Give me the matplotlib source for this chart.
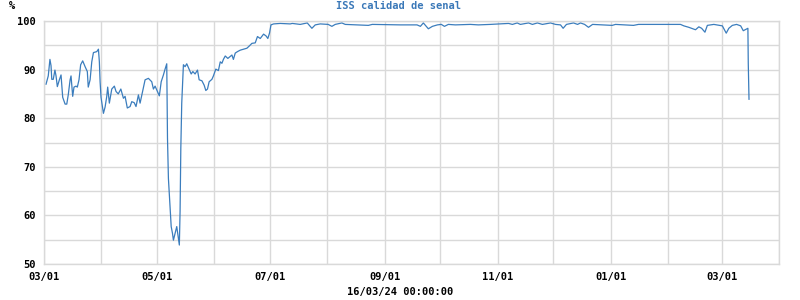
import matplotlib
matplotlib.use("Agg")
import matplotlib.pyplot as plt
import matplotlib.dates as mdates
import pandas as pd

start_date = "2023-03-01"
end_date = "2024-04-01"

# days since 2023-03-01
day_offsets = [
    1.1, 2.3, 3.2, 3.8, 4.2, 5.0, 5.9, 6.5, 7.2, 8.3, 9.2, 9.7, 10.1, 11.4, 12.3, 13.1,
    14.1, 14.6, 15.5, 16.2, 17.3, 18.0, 18.9, 19.8, 20.9, 22.2, 23.4, 23.9, 24.9, 25.8,
    26.7, 28.5, 29.4, 29.9, 30.3, 30.8, 32.1, 33.0, 33.9, 34.4, 35.3, 36.6, 38.0, 38.9,
    40.1, 41.5, 42.9, 43.8, 45.0, 46.5, 47.4, 48.7, 49.7, 51.0, 51.9, 53.4, 54.6, 56.4,
    58.2, 59.1, 60.0, 60.9, 62.3, 63.3, 64.5, 65.4, 66.3, 66.7, 67.2, 68.1, 68.7, 69.4,
    69.9, 70.8, 71.7, 72.3, 73.1, 73.5, 73.9, 74.4, 75.0, 75.3, 76.2, 77.1, 78.6, 79.5,
    80.4, 81.6, 82.9, 83.8, 85.3, 86.5, 87.4, 88.3, 89.2, 90.7, 91.5, 92.8, 94.2, 95.2,
    96.1, 96.9, 97.9, 99.3, 100.6, 101.5, 102.3, 103.3, 104.5, 106.0, 107.7, 109.6,
    111.0, 112.3, 114.1, 115.3, 116.8, 118.6, 120.0, 120.9, 121.8, 122.6, 124.0, 127.6,
    133.0, 134.1, 138.4, 142.2, 144.7, 146.5, 149.2, 153.5, 155.5, 157.3, 160.9, 162.7,
    175.2, 177.3, 192.5, 201.5, 203.3, 204.9, 206.0, 207.6, 209.8, 212.5, 214.6, 216.3,
    218.4, 222.2, 230.3, 234.6, 241.1, 250.9, 253.0, 255.6, 257.3, 261.7, 263.8, 266.5,
    269.2, 273.6, 276.3, 279.0, 280.4, 282.2, 286.0, 288.2, 289.8, 292.0, 294.1, 296.3,
    306.9, 308.7, 318.4, 321.1, 343.8, 345.6, 348.3, 351.9, 353.7, 355.2, 357.0, 358.3,
    361.8, 366.4, 368.5, 369.9, 371.8, 374.1, 376.3, 377.7, 380.2, 380.4, 380.8,
]

signal_pct = [
    87.0, 88.7, 92.1, 90.8, 88.0, 88.0, 89.9, 88.7, 86.5, 87.9, 88.9, 86.5, 84.3, 82.9, 82.9, 84.8,
    87.9, 88.7, 84.5, 86.4, 86.6, 86.4, 87.9, 91.0, 91.8, 90.6, 89.6, 86.4, 87.9, 91.6,
    93.5, 93.7, 94.2, 91.6, 87.5, 84.3, 81.0, 82.3, 84.5, 86.4, 83.1, 86.0, 86.6, 85.5,
    85.0, 86.0, 84.1, 84.5, 82.1, 82.4, 83.4, 83.2, 82.4, 84.8, 83.1, 85.8, 87.9, 88.2,
    87.5, 86.0, 86.6, 85.8, 84.6, 87.5, 88.9, 90.1, 91.2, 75.9, 67.6, 61.7, 57.7, 56.3,
    54.9, 56.3, 57.7, 56.0, 53.9, 60.8, 73.8, 83.1, 88.2, 91.0, 90.6, 91.2, 89.9, 89.1,
    89.6, 89.1, 89.9, 87.9, 87.7, 86.8, 85.7, 86.0, 87.5, 88.0, 88.7, 90.1, 89.8, 91.6,
    91.3, 92.1, 92.8, 92.3, 92.7, 93.0, 92.1, 93.4, 93.7, 94.0, 94.2, 94.4,
    94.9, 95.4, 95.5, 96.8, 96.4, 97.3, 96.9, 96.4, 97.5, 99.2, 99.4, 99.5,
    99.4, 99.5, 99.3, 99.6, 98.5, 99.2, 99.4, 99.3, 98.9, 99.3, 99.6, 99.3,
    99.1, 99.3, 99.2, 99.2, 98.9, 99.6, 99.1, 98.4, 98.9, 99.2, 99.3, 98.9,
    99.3, 99.2, 99.3, 99.2, 99.3, 99.5, 99.3, 99.6, 99.3, 99.6, 99.3, 99.6,
    99.3, 99.6, 99.3, 99.2, 98.5, 99.3, 99.6, 99.3, 99.6, 99.3, 98.7, 99.3,
    99.1, 99.3, 99.1, 99.3, 99.3, 99.0, 98.7, 98.2, 98.8, 98.5, 97.7, 99.1,
    99.3, 99.0, 97.5, 98.5, 99.1, 99.3, 99.0, 98.0, 98.5, 91.3, 83.9,
]

title = "ISS calidad de senal"
y_unit = "%"
x_caption = "16/03/24 00:00:00"

dates = pd.Timestamp(start_date) + pd.to_timedelta(day_offsets, unit="D")

line_color = "#3b7dbd"
grid_color = "#d9d9d9"
font = dict(family="DejaVu Sans Mono", weight="bold", size=7.5)

fig = plt.figure(figsize=(8, 3), dpi=100)
ax = fig.add_axes([44 / 800, 36 / 300, 735 / 800, 243 / 300])
ax.plot(dates, signal_pct, color=line_color, lw=0.9)

ax.set_xlim(pd.Timestamp(start_date), pd.Timestamp(end_date))
ax.set_ylim(50, 100)
ax.set_yticks(range(50, 101, 10))
ax.set_yticks(range(55, 100, 10), minor=True)
ax.xaxis.set_major_locator(mdates.MonthLocator(bymonth=[1, 3, 5, 7, 9, 11]))
ax.xaxis.set_minor_locator(mdates.MonthLocator(bymonth=[2, 4, 6, 8, 10, 12]))
ax.xaxis.set_major_formatter(mdates.DateFormatter("%m/%d"))
ax.grid(True, which="both", color=grid_color, lw=1.0)
ax.set_axisbelow(True)
for s in ax.spines.values():
    s.set_color(grid_color)
    s.set_linewidth(1.0)
ax.tick_params(which="both", length=0)
ax.tick_params(axis="y", pad=6)
ax.tick_params(axis="x", pad=6)
for lab in ax.get_xticklabels() + ax.get_yticklabels():
    lab.set_fontfamily(font["family"])
    lab.set_fontweight("bold")
    lab.set_fontsize(font["size"])

fig.text(398 / 800, 1 - 6 / 300, title, ha="center", va="center", color="#3a78b8", **font)
fig.text(12 / 800, 1 - 6 / 300, y_unit, ha="center", va="center", color="black", **font)
fig.text(400 / 800, 1 - 292 / 300, x_caption, ha="center", va="center", color="black", **font)

fig.savefig("out.png", dpi=100)
